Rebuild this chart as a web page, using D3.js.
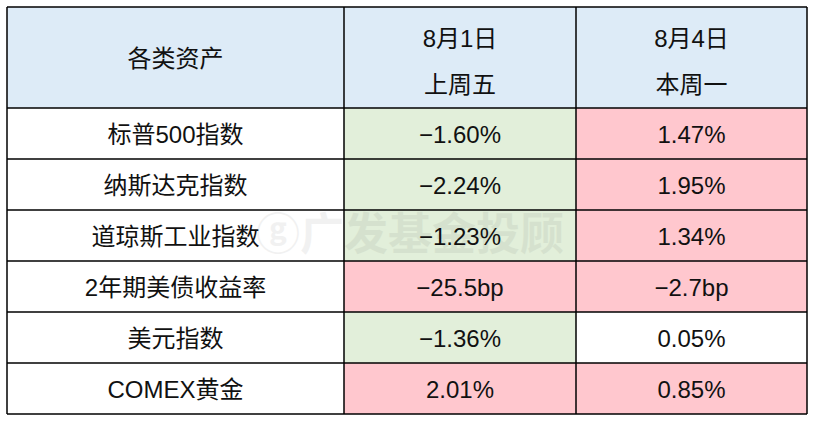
<!DOCTYPE html>
<html><head><meta charset="utf-8">
<script src="https://cdn.jsdelivr.net/npm/d3@7"></script>
<style>body{margin:0;background:#fff}</style></head>
<body><svg id="c" width="815" height="424"></svg>
<script>
const headers = [["各类资产"], ["8月1日","上周五"], ["8月4日","本周一"]];
const assets = ["标普500指数","纳斯达克指数","道琼斯工业指数","2年期美债收益率","美元指数","COMEX黄金"];
const fri = ["−1.60%","−2.24%","−1.23%","−25.5bp","−1.36%","2.01%"];
const mon = ["1.47%","1.95%","1.34%","−2.7bp","0.05%","0.85%"];
const friTone = ["g","g","g","p","g","p"];
const monTone = ["p","p","p","p","w","p"];
const fills = {g:"#e2efda", p:"#ffc7ce", w:"#ffffff", h:"#ddebf7"};

(function(){
const svg = d3.select("#c");
const font = "'Liberation Sans','Noto Sans CJK SC',sans-serif";
const x = d3.scaleOrdinal().domain([0,1,2]).range([7,344,576]);
const colW = [337,232,231];
const headH = 101, y0 = 7;
const y = d3.scaleBand().domain(d3.range(assets.length)).range([y0+headH, 414]);

headers.forEach((h,i)=>{
  svg.append("rect").attr("x",x(i)).attr("y",y0).attr("width",colW[i]).attr("height",headH).attr("fill",fills.h);
  h.forEach((t,j)=>{
    svg.append("text").attr("x",x(i)+colW[i]/2)
      .attr("y", h.length===1 ? y0+headH/2+9 : y0+40+j*46)
      .attr("text-anchor","middle").attr("font-family",font).attr("font-size",24).attr("fill","#111").text(t);
  });
});
svg.append("text").attr("x",410).attr("y",250).attr("text-anchor","middle").attr("font-family",font)
  .attr("font-size",44).attr("font-weight","bold").attr("fill","#000").attr("opacity",0.05).text("ⓖ广发基金投顾");
const cols = [assets.map(()=> "w"), friTone, monTone];
const texts = [assets, fri, mon];
assets.forEach((a,r)=>{
  [0,1,2].forEach(c=>{
    svg.insert("rect","text").attr("x",x(c)).attr("y",y(r)).attr("width",colW[c]).attr("height",y.bandwidth()).attr("fill",fills[cols[c][r]]);
    svg.append("text").attr("x",x(c)+colW[c]/2).attr("y",y(r)+y.bandwidth()/2+9)
      .attr("text-anchor","middle").attr("font-family",font).attr("font-size",24).attr("fill","#111").text(texts[c][r]);
  });
});
const g = svg.append("g").attr("stroke","#000").attr("stroke-width",1.5);
[y0, ...y.domain().map(d=>y(d)), 414].forEach(v=>g.append("line").attr("x1",7).attr("x2",807).attr("y1",v).attr("y2",v));
[7,344,576,807].forEach(v=>g.append("line").attr("x1",v).attr("x2",v).attr("y1",y0).attr("y2",414));
})();
</script></body></html>
